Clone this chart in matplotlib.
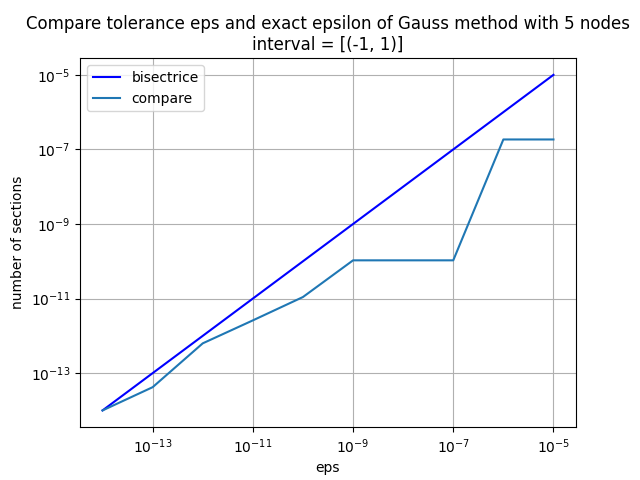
import matplotlib
matplotlib.use("Agg")
import matplotlib.pyplot as plt

eps = [1e-14, 1e-13, 1e-12, 1e-11, 1e-10, 1e-9, 1e-8, 1e-7, 1e-6, 1e-5]
compare = [1e-14, 4.2e-14, 6.3e-13, 2.6e-12, 1.1e-11, 1.06e-10, 1.06e-10, 1.06e-10, 1.85e-7, 1.85e-7]

fig, ax = plt.subplots(figsize=(6.4, 4.8), dpi=100)
ax.loglog(eps, eps, color="blue", label="bisectrice")
ax.loglog(eps, compare, label="compare")
ax.set_title("Compare tolerance eps and exact epsilon of Gauss method with 5 nodes\ninterval = [(-1, 1)]")
ax.set_xlabel("eps")
ax.set_ylabel("number of sections")
ax.grid(True)
ax.legend()
fig.subplots_adjust(left=0.125, right=0.9, top=0.879, bottom=0.11)
plt.savefig("out.png", dpi=100)
